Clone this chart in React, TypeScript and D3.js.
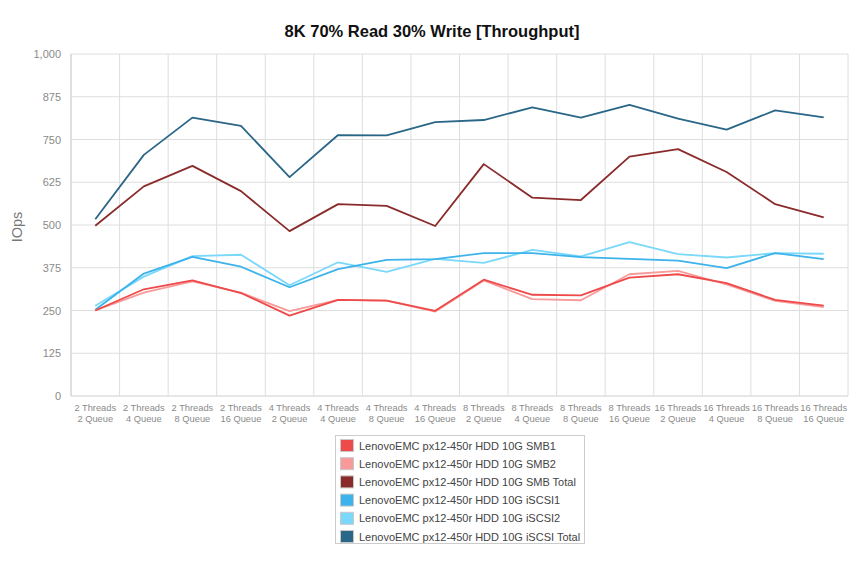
import React from "react";
import * as d3 from "d3";

const categories = [
  ["2 Threads", "2 Queue"], ["2 Threads", "4 Queue"], ["2 Threads", "8 Queue"], ["2 Threads", "16 Queue"],
  ["4 Threads", "2 Queue"], ["4 Threads", "4 Queue"], ["4 Threads", "8 Queue"], ["4 Threads", "16 Queue"],
  ["8 Threads", "2 Queue"], ["8 Threads", "4 Queue"], ["8 Threads", "8 Queue"], ["8 Threads", "16 Queue"],
  ["16 Threads", "2 Queue"], ["16 Threads", "4 Queue"], ["16 Threads", "8 Queue"], ["16 Threads", "16 Queue"],
];

const smb1 = [250, 312, 338, 301, 235, 281, 279, 249, 340, 296, 294, 346, 356, 330, 281, 264];
const smb2 = [250, 302, 335, 302, 248, 281, 279, 247, 338, 283, 280, 356, 366, 326, 278, 260];
const smbTotal = [498, 613, 673, 599, 482, 561, 556, 497, 678, 580, 573, 700, 722, 655, 561, 522];
const iscsi1 = [252, 358, 407, 378, 318, 371, 398, 400, 418, 418, 406, 401, 396, 374, 418, 400];
const iscsi2 = [264, 349, 409, 413, 324, 391, 363, 401, 389, 427, 408, 450, 415, 405, 418, 416];
const iscsiTotal = [517, 705, 814, 790, 640, 763, 762, 801, 807, 844, 814, 851, 811, 779, 835, 815];

const yTicks = [0, 125, 250, 375, 500, 625, 750, 875, 1000];

const seriesNames = [
  "LenovoEMC px12-450r HDD 10G SMB1",
  "LenovoEMC px12-450r HDD 10G SMB2",
  "LenovoEMC px12-450r HDD 10G SMB Total",
  "LenovoEMC px12-450r HDD 10G iSCSI1",
  "LenovoEMC px12-450r HDD 10G iSCSI2",
  "LenovoEMC px12-450r HDD 10G iSCSI Total",
];
const seriesColors = ["#ee4a4a", "#f99a9a", "#8a2b2b", "#3cb3ea", "#7ad8fb", "#2a6687"];
const seriesValues = [smb1, smb2, smbTotal, iscsi1, iscsi2, iscsiTotal];

const W = 850;
const H = 567;
const left = 71;
const right = 848;
const top = 54;
const bottom = 396;
const font = "'Liberation Sans', Arial, Helvetica, sans-serif";

export default function App() {
  const x = d3.scaleBand<number>().domain(categories.map((_, i) => i)).range([left, right]).padding(0);
  const y = d3.scaleLinear().domain([0, 1000]).range([bottom, top]);
  const line = d3
    .line<number>()
    .x((_, i) => (x(i) as number) + x.bandwidth() / 2)
    .y((d) => y(d));
  const fmt = d3.format(",");

  const drawOrder = [5, 2, 4, 3, 1, 0];

  return (
    <svg
      width={W}
      height={H}
      style={{ position: "absolute", left: 0, top: 0, background: "#fff" }}
      fontFamily={font}
    >
      <rect x={0} y={0} width={W} height={H} fill="#fff" />
      <text x={432} y={36.5} textAnchor="middle" fontSize={16.5} fontWeight="bold" fill="#111">
        8K 70% Read 30% Write [Throughput]
      </text>

      {/* horizontal grid */}
      {yTicks.map((t) => (
        <line key={"h" + t} x1={left} x2={right} y1={y(t)} y2={y(t)} stroke={t === 0 ? "#cfcfcf" : "#dedede"} strokeWidth={1} />
      ))}
      {/* vertical grid */}
      {categories.map((_, i) => (
        <line key={"v" + i} x1={x(i)} x2={x(i)} y1={top} y2={bottom} stroke="#dedede" strokeWidth={1} />
      ))}
      <line x1={right} x2={right} y1={top} y2={bottom} stroke="#dedede" strokeWidth={1} />
      <line x1={left} x2={left} y1={top} y2={bottom} stroke="#cfcfcf" strokeWidth={1} />

      {/* y tick labels */}
      {yTicks.map((t) => (
        <text key={"yl" + t} x={61} y={y(t) + 4} textAnchor="end" fontSize={11} fill="#8a8a8a">
          {fmt(t)}
        </text>
      ))}
      <text
        transform={`translate(22,${(top + bottom) / 2 + 2}) rotate(-90)`}
        textAnchor="middle"
        fontSize={14.5}
        fill="#777"
      >
        IOps
      </text>

      {/* x tick labels */}
      {categories.map((c, i) => (
        <g key={"xl" + i}>
          <text x={(x(i) as number) + x.bandwidth() / 2} y={411} textAnchor="middle" fontSize={9.3} fill="#8a8a8a">
            {c[0]}
          </text>
          <text x={(x(i) as number) + x.bandwidth() / 2} y={422} textAnchor="middle" fontSize={9.3} fill="#8a8a8a">
            {c[1]}
          </text>
        </g>
      ))}

      {/* lines */}
      {drawOrder.map((si) => (
        <path
          key={"s" + si}
          d={line(seriesValues[si]) as string}
          fill="none"
          stroke={seriesColors[si]}
          strokeWidth={1.8}
          strokeLinejoin="round"
        />
      ))}

      {/* legend */}
      <rect x={335.5} y={435.5} width={249} height={108} fill="#fff" stroke="#cccccc" strokeWidth={1} />
      {seriesNames.map((n, i) => (
        <g key={"lg" + i} transform={`translate(340,${439 + i * 18.2})`}>
          <rect x={0.5} y={0.5} width={13} height={12} fill={seriesColors[i]} stroke="#c8c8c8" strokeWidth={1} />
          <text x={19} y={10.5} fontSize={11} fill="#444">
            {n}
          </text>
        </g>
      ))}
    </svg>
  );
}
